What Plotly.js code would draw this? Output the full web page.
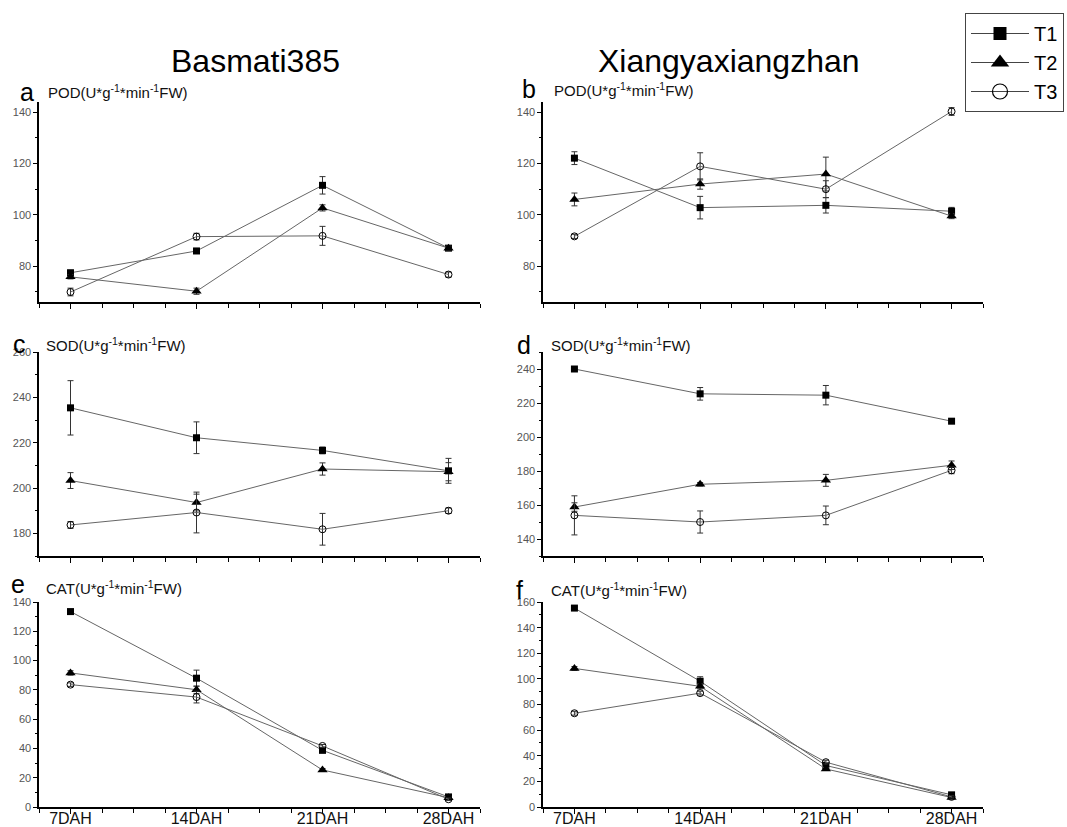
<!DOCTYPE html>
<html>
<head>
<meta charset="utf-8">
<script src="https://cdn.plot.ly/plotly-3.0.1.min.js"></script>
<style>
  html, body { margin: 0; padding: 0; background: #fff; }
  #chart { width: 1067px; height: 827px; }
</style>
</head>
<body>
<div id="chart"></div>
<script>
// ---------------- DATA ----------------
const days = [7, 14, 21, 28];
const dayLabels = ['7DAH', '14DAH', '21DAH', '28DAH'];
const seriesNames = ['T1', 'T2', 'T3'];
const varieties = ['Basmati385', 'Xiangyaxiangzhan'];
const panelLetters = ['a', 'b', 'c', 'd', 'e', 'f'];
const enzymeLabels = ['POD', 'SOD', 'CAT'];

// POD - Basmati385 (a)
const podBasT1 = [77.4, 85.9, 111.5, 87.0];
const podBasT1Err = [1.0, 1.0, 3.4, 0.8];
const podBasT2 = [75.8, 70.2, 102.7, 87.0];
const podBasT2Err = [0.8, 1.2, 1.2, 0.8];
const podBasT3 = [69.9, 91.5, 91.8, 76.7];
const podBasT3Err = [1.5, 1.3, 3.7, 1.0];

// POD - Xiangyaxiangzhan (b)
const podXiaT1 = [122.1, 102.8, 103.7, 101.4];
const podXiaT1Err = [2.5, 4.4, 3.0, 1.5];
const podXiaT2 = [106.0, 112.0, 115.9, 99.5];
const podXiaT2Err = [2.5, 2.0, 6.6, 1.0];
const podXiaT3 = [91.6, 118.9, 110.0, 140.3];
const podXiaT3Err = [0.8, 5.3, 3.3, 1.5];

// SOD - Basmati385 (c)
const sodBasT1 = [235.4, 222.2, 216.6, 207.6];
const sodBasT1Err = [12.0, 7.0, 1.5, 5.5];
const sodBasT2 = [203.3, 193.6, 208.4, 207.2];
const sodBasT2Err = [3.5, 3.7, 2.7, 4.0];
const sodBasT3 = [183.7, 189.2, 181.8, 190.0];
const sodBasT3Err = [1.5, 9.0, 7.0, 1.2];

// SOD - Xiangyaxiangzhan (d)
const sodXiaT1 = [240.0, 225.4, 224.6, 209.3];
const sodXiaT1Err = [0.6, 3.7, 5.7, 0.8];
const sodXiaT2 = [158.8, 172.2, 174.5, 183.4];
const sodXiaT2Err = [2.5, 1.0, 3.5, 2.5];
const sodXiaT3 = [153.9, 150.0, 153.9, 180.4];
const sodXiaT3Err = [11.5, 6.5, 5.5, 2.0];

// CAT - Basmati385 (e)
const catBasT1 = [133.5, 88.0, 38.7, 6.9];
const catBasT1Err = [1.5, 5.5, 1.5, 1.0];
const catBasT2 = [91.6, 80.1, 25.3, 6.4];
const catBasT2Err = [1.5, 2.5, 1.0, 0.8];
const catBasT3 = [83.6, 75.1, 41.7, 5.3];
const catBasT3Err = [1.2, 4.0, 1.0, 0.8];

// CAT - Xiangyaxiangzhan (f)
const catXiaT1 = [155.3, 98.2, 32.4, 9.5];
const catXiaT1Err = [1.0, 3.5, 2.0, 1.5];
const catXiaT2 = [108.2, 94.2, 29.7, 7.4];
const catXiaT2Err = [1.5, 2.0, 1.0, 0.8];
const catXiaT3 = [73.2, 88.9, 35.0, 7.9];
const catXiaT3Err = [1.5, 1.5, 1.5, 0.8];

// y ranges per panel
const yRanges = [[66, 144], [66, 144], [170, 260.05], [130, 250], [0, 140.05], [0, 160.05]];

// ---------------- BUILD ----------------
const W = 1067, H = 827;
const fx = p => p / W;
const fy = p => 1 - p / H;
const FONT = 'Liberation Sans, Arial, Helvetica, sans-serif';

const panels = [
  { vals: [podBasT1, podBasT2, podBasT3], errs: [podBasT1Err, podBasT2Err, podBasT3Err] },
  { vals: [podXiaT1, podXiaT2, podXiaT3], errs: [podXiaT1Err, podXiaT2Err, podXiaT3Err] },
  { vals: [sodBasT1, sodBasT2, sodBasT3], errs: [sodBasT1Err, sodBasT2Err, sodBasT3Err] },
  { vals: [sodXiaT1, sodXiaT2, sodXiaT3], errs: [sodXiaT1Err, sodXiaT2Err, sodXiaT3Err] },
  { vals: [catBasT1, catBasT2, catBasT3], errs: [catBasT1Err, catBasT2Err, catBasT3Err] },
  { vals: [catXiaT1, catXiaT2, catXiaT3], errs: [catXiaT1Err, catXiaT2Err, catXiaT3Err] }
];

const markerStyles = [
  { symbol: 'square', size: 7, color: '#000', line: { color: '#000', width: 0 } },
  { symbol: 'triangle-up', size: 9, color: '#000', line: { color: '#000', width: 0 } },
  { symbol: 'circle-open', size: 7, color: '#000', line: { color: '#000', width: 1 } }
];
const legendMarkers = [
  { symbol: 'square', size: 13, color: '#000' },
  { symbol: 'triangle-up', size: 16, color: '#000' },
  { symbol: 'circle-open', size: 15, color: '#000', line: { color: '#000', width: 1.2 } }
];

// pixel boxes of the panels
const colX = [[39, 480], [543, 983]];
const rowY = [[102, 302], [352, 556], [602, 807]];

const traces = [];
const layout = {
  width: W, height: H,
  margin: { l: 0, r: 0, t: 0, b: 0, autoexpand: false },
  paper_bgcolor: '#fff',
  plot_bgcolor: 'rgba(0,0,0,0)',
  showlegend: true,
  font: { family: FONT, color: '#000' },
  legend: {
    x: fx(965), y: fy(13), xanchor: 'left', yanchor: 'top',
    bordercolor: '#444', borderwidth: 1, bgcolor: '#fff',
    font: { size: 20, family: FONT, color: '#000' },
    itemwidth: 58, tracegroupgap: 0
  },
  annotations: [],
  shapes: []
};

panels.forEach((p, i) => {
  const row = Math.floor(i / 2), col = i % 2;
  const n = i === 0 ? '' : String(i + 1);
  const xa = 'x' + n, ya = 'y' + n;
  p.vals.forEach((v, s) => {
    traces.push({
      type: 'scatter', mode: 'lines+markers',
      x: days, y: v, xaxis: xa, yaxis: ya,
      name: seriesNames[s], showlegend: false, legendgroup: seriesNames[s],
      line: { color: '#666', width: 1 },
      marker: markerStyles[s],
      error_y: { type: 'data', array: p.errs[s], visible: true, color: '#333', thickness: 1, width: 3 },
      cliponaxis: false
    });
  });
  const isBottom = row === 2;
  layout['xaxis' + n] = {
    domain: [fx(colX[col][0]), fx(colX[col][1])],
    anchor: ya,
    range: [5.25, 29.75],
    tickmode: 'array',
    tickvals: days,
    ticktext: dayLabels,
    showticklabels: isBottom,
    tickfont: { size: 16, family: FONT, color: '#111' },
    ticklabelstandoff: -9,
    ticks: 'outside', ticklen: 5, tickwidth: 1, tickcolor: '#000',
    minor: { tickmode: 'linear', tick0: 7, dtick: 1.75, ticks: 'outside', ticklen: 4, tickwidth: 1, tickcolor: '#000', showgrid: false },
    showline: true, linecolor: '#000', linewidth: 1.6,
    showgrid: false, zeroline: false, fixedrange: true
  };
  layout['yaxis' + n] = {
    domain: [fy(rowY[row][1]), fy(rowY[row][0])],
    anchor: xa,
    range: yRanges[i],
    tickmode: 'linear', tick0: 0, dtick: 20,
    tickfont: { size: 11, family: FONT, color: '#555' },
    ticks: 'outside', ticklen: 4, tickwidth: 1, tickcolor: '#000',
    minor: { tickmode: 'linear', tick0: 0, dtick: 10, ticks: 'outside', ticklen: 2.5, tickwidth: 1, tickcolor: '#000', showgrid: false },
    showline: true, linecolor: '#000', linewidth: 1.6,
    showgrid: false, zeroline: false, fixedrange: true
  };
});

// legend-only entries (no data points)
seriesNames.forEach((nm, s) => {
  traces.push({
    type: 'scatter', mode: 'lines+markers', x: [null], y: [null],
    xaxis: 'x', yaxis: 'y', name: nm, legendgroup: nm, showlegend: true,
    line: { color: '#444', width: 1 }, marker: legendMarkers[s], hoverinfo: 'skip'
  });
});

// titles
const titlePos = [[255, 61], [729, 61]];
varieties.forEach((v, i) => {
  layout.annotations.push({
    text: v, xref: 'paper', yref: 'paper', x: fx(titlePos[i][0]), y: fy(titlePos[i][1]),
    xanchor: 'center', yanchor: 'middle', showarrow: false,
    font: { size: 32, family: FONT, color: '#000' }
  });
});

// panel letters and unit labels
const letterPos = [[26.5, 91.6], [529, 88.6], [19, 343.6], [524, 344.6], [18, 583.6], [519, 590]];
const labelPos = [[46, 91], [552, 90], [44, 344], [549, 344], [44, 587], [549, 589]];
panelLetters.forEach((L, i) => {
  layout.annotations.push({
    text: L, xref: 'paper', yref: 'paper', x: fx(letterPos[i][0]), y: fy(letterPos[i][1]),
    xanchor: 'center', yanchor: 'middle', showarrow: false,
    font: { size: 25, family: FONT, color: '#000' }
  });
  const enz = enzymeLabels[Math.floor(i / 2)];
  layout.annotations.push({
    text: enz + '(U*g<sup>-1</sup>*min<sup>-1</sup>FW)', xref: 'paper', yref: 'paper',
    x: fx(labelPos[i][0]), y: fy(labelPos[i][1]),
    xanchor: 'left', yanchor: 'middle', showarrow: false,
    font: { size: 15, family: FONT, color: '#111' }
  });
});

Plotly.newPlot('chart', traces, layout, { staticPlot: true, displayModeBar: false });
</script>
</body>
</html>
